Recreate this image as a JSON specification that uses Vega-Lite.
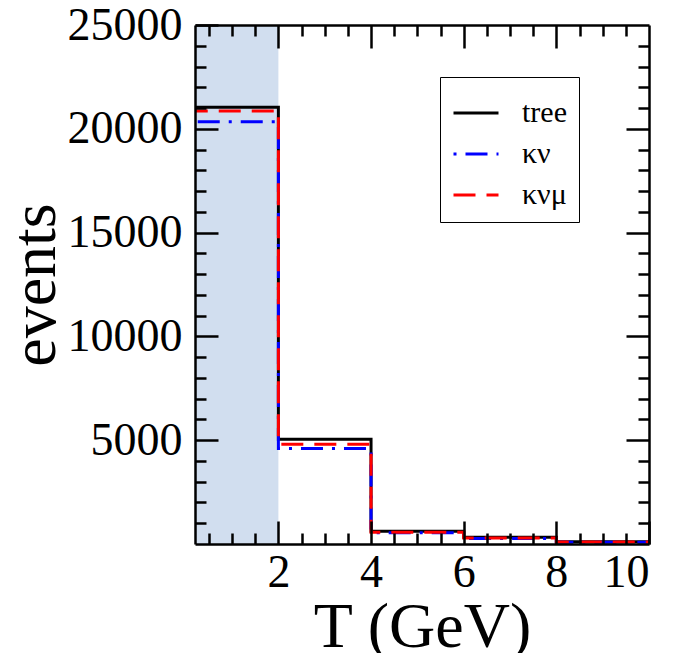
{
  "$schema": "https://vega.github.io/schema/vega-lite/v6.json",
  "width": 454,
  "height": 519,
  "autosize": {"type": "none"},
  "padding": {"left": 195, "top": 25, "right": 27, "bottom": 109},
  "background": "white",
  "config": {
    "view": {"stroke": null},
    "font": "Liberation Serif",
    "axis": {
      "labelFont": "Liberation Serif",
      "titleFont": "Liberation Serif",
      "labelColor": "black",
      "titleColor": "black",
      "tickColor": "black",
      "domainColor": "black",
      "grid": false,
      "labelFontWeight": "normal",
      "titleFontWeight": "normal",
      "tickWidth": 2.5,
      "domainWidth": 2.5
    }
  },
  "datasets": {
    "band": [{"start": 0, "end": 2}],
    "hist": [
      {"series": "tree", "T": 0, "events": 21040},
      {"series": "tree", "T": 2, "events": 5050},
      {"series": "tree", "T": 4, "events": 620},
      {"series": "tree", "T": 6, "events": 330},
      {"series": "tree", "T": 8, "events": 110},
      {"series": "tree", "T": 10, "events": 110},
      {"series": "κν", "T": 0, "events": 20340},
      {"series": "κν", "T": 2, "events": 4600},
      {"series": "κν", "T": 4, "events": 540},
      {"series": "κν", "T": 6, "events": 270},
      {"series": "κν", "T": 8, "events": 90},
      {"series": "κν", "T": 10, "events": 90},
      {"series": "κνμ", "T": 0, "events": 20860},
      {"series": "κνμ", "T": 2, "events": 4800},
      {"series": "κνμ", "T": 4, "events": 560},
      {"series": "κνμ", "T": 6, "events": 290},
      {"series": "κνμ", "T": 8, "events": 100},
      {"series": "κνμ", "T": 10, "events": 100}
    ]
  },
  "resolve": {"axis": {"x": "independent", "y": "independent"}},
  "layer": [
    {
      "data": {"name": "band"},
      "mark": {"type": "rect", "color": "#d1deef", "clip": true},
      "encoding": {
        "x": {"field": "start", "type": "quantitative", "scale": {"domain": [0.2, 10], "nice": false, "zero": false}, "axis": null},
        "x2": {"field": "end"}
      }
    },
    {
      "data": {"name": "hist"},
      "mark": {"type": "line", "interpolate": "step-after", "strokeWidth": 3, "clip": true},
      "encoding": {
        "x": {
          "field": "T", "type": "quantitative",
          "scale": {"domain": [0.2, 10], "nice": false, "zero": false},
          "axis": {"orient": "bottom", "zindex": 2, "values": [2, 4, 6, 8, 10], "tickSize": -23, "labelFontSize": 46, "labelPadding": 29, "title": "T (GeV)", "titleFontSize": 64, "titlePadding": 0, "domain": true}
        },
        "y": {
          "field": "events", "type": "quantitative",
          "scale": {"domain": [0, 25000], "nice": false},
          "axis": {"orient": "left", "zindex": 2, "values": [5000, 10000, 15000, 20000, 25000], "format": "d", "tickSize": -23, "labelFontSize": 46, "labelPadding": 36, "title": "events", "titleFontSize": 64, "titlePadding": 0, "domain": true}
        },
        "color": {
          "field": "series", "type": "nominal",
          "scale": {"domain": ["tree", "κν", "κνμ"], "range": ["#000000", "#0000ff", "#ff0000"]},
          "legend": {"title": null, "orient": "none", "legendX": 245, "legendY": 52, "fillColor": "white", "strokeColor": "black", "padding": 12, "labelFont": "Liberation Serif", "labelFontSize": 30, "labelColor": "black", "symbolType": "stroke", "symbolSize": 2025, "symbolStrokeWidth": 3, "labelOffset": 22, "rowPadding": 2}
        },
        "strokeDash": {
          "field": "series", "type": "nominal",
          "scale": {"domain": ["tree", "κν", "κνμ"], "range": [[1, 0], [3, 9, 22, 9], [22, 11]]},
          "legend": {"title": null, "orient": "none", "legendX": 245, "legendY": 52, "fillColor": "white", "strokeColor": "black", "padding": 12, "labelFont": "Liberation Serif", "labelFontSize": 30, "labelColor": "black", "symbolType": "stroke", "symbolSize": 2025, "symbolStrokeWidth": 3, "labelOffset": 22, "rowPadding": 2}
        }
      }
    },
    {
      "data": {"name": "hist"},
      "mark": {"type": "point", "opacity": 0},
      "encoding": {
        "x": {
          "field": "T", "type": "quantitative",
          "scale": {"domain": [0.2, 10], "nice": false, "zero": false},
          "axis": {"orient": "bottom", "zindex": 2, "values": [0.5, 1, 1.5, 2.5, 3, 3.5, 4.5, 5, 5.5, 6.5, 7, 7.5, 8.5, 9, 9.5], "tickSize": -11, "labels": false, "title": null, "domain": false}
        },
        "y": {
          "field": "events", "type": "quantitative",
          "scale": {"domain": [0, 25000], "nice": false},
          "axis": {"orient": "left", "zindex": 2, "values": [1000, 2000, 3000, 4000, 6000, 7000, 8000, 9000, 11000, 12000, 13000, 14000, 16000, 17000, 18000, 19000, 21000, 22000, 23000, 24000], "tickSize": -11, "labels": false, "title": null, "domain": false}
        }
      }
    },
    {
      "data": {"name": "hist"},
      "mark": {"type": "point", "opacity": 0},
      "encoding": {
        "x": {
          "field": "T", "type": "quantitative",
          "scale": {"domain": [0.2, 10], "nice": false, "zero": false},
          "axis": {"orient": "top", "zindex": 2, "values": [2, 4, 6, 8], "tickSize": -23, "labels": false, "title": null, "domain": true}
        },
        "y": {
          "field": "events", "type": "quantitative",
          "scale": {"domain": [0, 25000], "nice": false},
          "axis": {"orient": "right", "zindex": 2, "values": [5000, 10000, 15000, 20000], "tickSize": -23, "labels": false, "title": null, "domain": true}
        }
      }
    },
    {
      "data": {"name": "hist"},
      "mark": {"type": "point", "opacity": 0},
      "encoding": {
        "x": {
          "field": "T", "type": "quantitative",
          "scale": {"domain": [0.2, 10], "nice": false, "zero": false},
          "axis": {"orient": "top", "zindex": 2, "values": [0.5, 1, 1.5, 2.5, 3, 3.5, 4.5, 5, 5.5, 6.5, 7, 7.5, 8.5, 9, 9.5], "tickSize": -11, "labels": false, "title": null, "domain": false}
        },
        "y": {
          "field": "events", "type": "quantitative",
          "scale": {"domain": [0, 25000], "nice": false},
          "axis": {"orient": "right", "zindex": 2, "values": [1000, 2000, 3000, 4000, 6000, 7000, 8000, 9000, 11000, 12000, 13000, 14000, 16000, 17000, 18000, 19000, 21000, 22000, 23000, 24000], "tickSize": -11, "labels": false, "title": null, "domain": false}
        }
      }
    }
  ]
}
